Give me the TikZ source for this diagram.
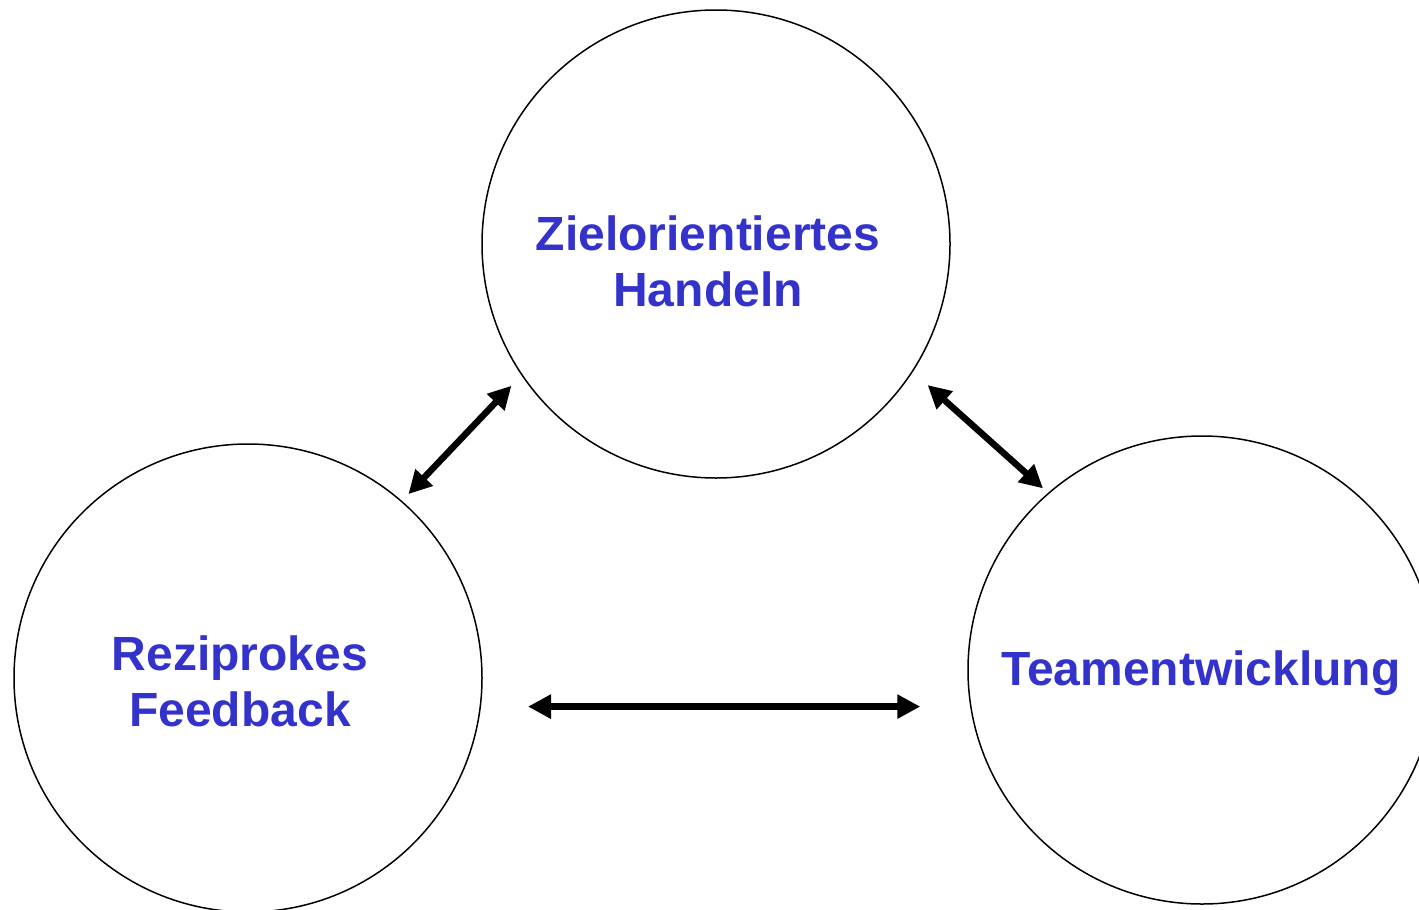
\documentclass[tikz,border=0pt]{standalone}
\usepackage{fontspec}
\setmainfont{Liberation Sans}
\usetikzlibrary{arrows.meta}
\definecolor{txtblue}{RGB}{51,51,204}

\begin{document}
\begin{tikzpicture}[x=0.5pt,y=-0.5pt,
        circ/.style={draw, circle, line width=0.75pt, minimum size=234pt, inner sep=0pt},
        lbl/.style={txtblue, align=center, inner sep=0pt, font=\bfseries\fontsize{24}{28}\selectfont},
        link/.style={line width=3.25pt, {Triangle[length=11.5pt,width=11.5pt]}-{Triangle[length=11.5pt,width=11.5pt]}}]
        \useasboundingbox (0,0) rectangle (1419,910);

        % Three circles
        \node[circ] (T) at (716,244) {};
        \node[circ] (L) at (248,678) {};
        \node[circ] (R) at (1202,670) {};

        % Labels inside the circles
        \node[lbl] (tT) at (708,261.5) {Zielorientiertes\\Handeln};
        \node[lbl] (tL) at (240,681) {Reziprokes\\Feedback};
        \node[lbl] (tR) at (1201,673) {Teamentwicklung};

        % Double arrows between the circles
        \draw[link, shorten <=4.65pt, shorten >=7.2pt] (L.49.5) -- (T.214.8);
        \draw[link, shorten <=9.9pt, shorten >=3.35pt] (T.-33.2) -- (R.131.6);
        \draw[link] ([xshift=23.5pt]L.-7) -- ([xshift=-23.5pt]L.-7 -| R.west);
    \end{tikzpicture}
\end{document}
